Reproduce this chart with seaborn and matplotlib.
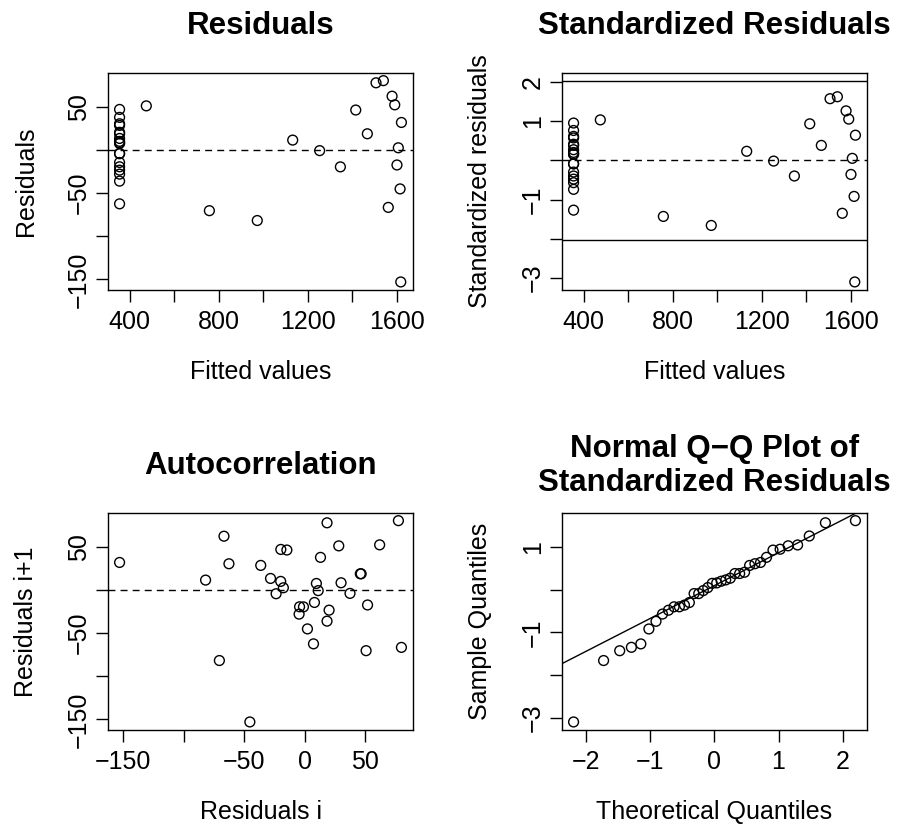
import numpy as np
import matplotlib
matplotlib.use("Agg")
import matplotlib.pyplot as plt
import seaborn as sns
from statistics import NormalDist

fitted = [355, 355, 355, 355, 355, 355, 355, 355, 355, 355, 355, 355,
          475, 758, 973, 1132, 1253, 1346,
          355, 355, 355, 355, 355, 355,
          1415, 1467, 1506, 1539, 1561, 1578, 1590, 1600, 1606, 1614, 1617, 1620]
resid = [20.2, -23.6, -4.6, -28.2, 13.1, 37.5, -4.2, -19.7, 46.7, 18.5, -36.3, 28.2,
         50.8, -70.5, -81.9, 11.2, -1.0, -19.8,
         9.7, 7.3, -62.6, 30.1, 8.1, -14.7,
         46.0, 18.5, 77.5, 80.0, -66.7, 62.0, 52.0, -17.6, 2.3, -45.3, -153.0, 31.6]
std_resid = [0.41, -0.48, -0.09, -0.57, 0.27, 0.76, -0.09, -0.40, 0.95, 0.38, -0.74, 0.57,
             1.03, -1.43, -1.66, 0.23, -0.02, -0.40,
             0.20, 0.15, -1.27, 0.61, 0.16, -0.30,
             0.93, 0.38, 1.57, 1.62, -1.35, 1.26, 1.05, -0.36, 0.05, -0.92, -3.10, 0.64]
crit = 2.03  # reference lines on the standardized plot

M = "\u2212"
fit_ticks = [400, 600, 800, 1000, 1200, 1400, 1600]
fit_labels = ["400", "", "800", "", "1200", "", "1600"]
res_ticks = [50, 0, -50, -100, -150]
res_labels = ["50", "", M + "50", "", M + "150"]
std_ticks = [2, 1, 0, -1, -2, -3]
std_labels = ["2", "1", "", M + "1", "", M + "3"]
lag_xticks = [-150, -100, -50, 0, 50]
lag_xlabels = [M + "150", "", M + "50", "0", "50"]
qq_xticks = [-2, -1, 0, 1, 2]
qq_xlabels = [M + "2", M + "1", "0", "1", "2"]
qq_yticks = [1, 0, -1, -2, -3]
qq_ylabels = ["1", "", M + "1", "", M + "3"]

sns.set_theme(style="white")
plt.rcParams['font.family'] = ['Liberation Sans', 'DejaVu Sans']
plt.rcParams['text.color'] = 'black'

FS = 18
TFS = 22.5


def rlim(v):
    lo, hi = min(v), max(v)
    d = 0.04 * (hi - lo)
    return lo - d, hi + d


def style_ax(ax, xt, xl, yt, yl, xlab, ylab, title):
    for s in ax.spines.values():
        s.set_visible(True)
        s.set_color("black")
        s.set_linewidth(1.0)
    ax.set_xticks(xt)
    ax.set_xticklabels(xl)
    ax.set_yticks(yt)
    ax.set_yticklabels(yl, rotation=90, va="center")
    ax.tick_params(direction="out", length=8.5, width=1.0, color="black",
                   labelsize=FS, bottom=True, left=True, top=False, right=False,
                   labelcolor="black")
    ax.tick_params(axis="x", pad=6)
    ax.tick_params(axis="y", pad=4)
    ax.set_xlabel(xlab, fontsize=FS, color="black")
    ax.set_ylabel(ylab, fontsize=FS, color="black")
    ax.xaxis.set_label_coords(0.5, -0.32)
    ax.yaxis.set_label_coords(-0.27, 0.5)
    ax.yaxis.label.set_va("center")
    ax.text(0.5, 1.215, title, transform=ax.transAxes, ha="center", va="center",
            fontsize=TFS, fontweight="bold", linespacing=1.15, color="black")
    ax.grid(False)


def pts(ax, x, y):
    sns.scatterplot(x=x, y=y, ax=ax, marker="o", s=50, facecolor="none",
                    edgecolor="black", linewidth=1.0, legend=False)


W, H = 902, 825
fig = plt.figure(figsize=(W / 100, H / 100), dpi=100)
fig.patch.set_facecolor("white")
aw, ah = 304.4 / W, 217.4 / H
ax1 = fig.add_axes([108.3 / W, (H - 290) / H, aw, ah])
ax2 = fig.add_axes([562.3 / W, (H - 290) / H, aw, ah])
ax3 = fig.add_axes([108.3 / W, (H - 730) / H, aw, ah])
ax4 = fig.add_axes([562.3 / W, (H - 730) / H, aw, ah])

dash = (0, (5, 3.7))

# Residuals vs fitted
pts(ax1, fitted, resid)
ax1.axhline(0, color="black", lw=1.0, ls=dash)
ax1.set_xlim(rlim(fitted))
ax1.set_ylim(rlim(resid))
style_ax(ax1, fit_ticks, fit_labels, res_ticks, res_labels,
         "Fitted values", "Residuals", "Residuals")

# Standardized residuals vs fitted
pts(ax2, fitted, std_resid)
ax2.axhline(0, color="black", lw=1.0, ls=dash)
ax2.axhline(crit, color="black", lw=1.0)
ax2.axhline(-crit, color="black", lw=1.0)
ax2.set_xlim(rlim(fitted))
ax2.set_ylim(rlim(std_resid + [crit, -crit]))
style_ax(ax2, fit_ticks, fit_labels, std_ticks, std_labels,
         "Fitted values", "Standardized residuals", "Standardized Residuals")

# lag-1 autocorrelation of residuals
pts(ax3, resid[:-1], resid[1:])
ax3.axhline(0, color="black", lw=1.0, ls=dash)
ax3.set_xlim(rlim(resid[:-1]))
ax3.set_ylim(rlim(resid[1:]))
style_ax(ax3, lag_xticks, lag_xlabels, res_ticks, res_labels,
         "Residuals i", "Residuals i+1", "Autocorrelation")

# normal QQ plot
n = len(std_resid)
nd = NormalDist()
theo = [nd.inv_cdf((i + 0.5) / n) for i in range(n)]
samp = sorted(std_resid)
pts(ax4, theo, samp)
q1, q3 = np.percentile(samp, [25, 75])
slope = (q3 - q1) / (nd.inv_cdf(0.75) - nd.inv_cdf(0.25))
icpt = q1 - slope * nd.inv_cdf(0.25)
ax4.axline((0, icpt), slope=slope, color="black", lw=1.0)
ax4.set_xlim(rlim(theo))
ax4.set_ylim(rlim(samp))
style_ax(ax4, qq_xticks, qq_xlabels, qq_yticks, qq_ylabels,
         "Theoretical Quantiles", "Sample Quantiles",
         "Normal Q\u2212Q Plot of\nStandardized Residuals")

fig.savefig("out.png", dpi=100, facecolor="white")
